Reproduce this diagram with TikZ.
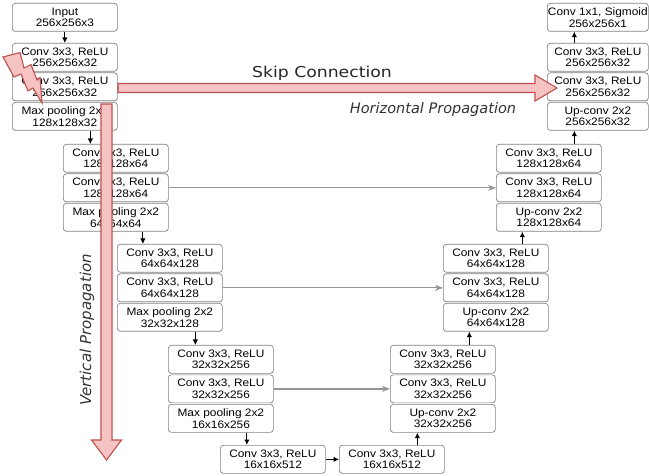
\documentclass[tikz,border=0pt]{standalone}
\usepackage{fontspec}
\usetikzlibrary{arrows.meta,calc}
\newfontfamily\boxfont[FakeStretch=1.1]{Liberation Sans}
\newfontfamily\labfont[FakeStretch=1.15]{DejaVu Sans}
\newfontfamily\plainfont{DejaVu Sans}
\definecolor{boxgray}{RGB}{130,130,130}
\definecolor{skipgray}{RGB}{150,150,150}
\definecolor{redline}{RGB}{192,80,77}
\definecolor{redfill}{RGB}{245,195,195}
\begin{document}
\begin{tikzpicture}[x=1pt,y=-1pt,
 blk/.style={draw=boxgray, line width=0.7pt, rounded corners=3pt, fill=white, minimum width=105pt, minimum height=28pt, inner sep=0pt, align=center, anchor=north west, font=\boxfont\fontsize{10.8}{11.7}\selectfont},
 blkr/.style={blk, minimum width=101pt},
 arr/.style={line width=1pt, -{Latex[length=5.5pt,width=5.5pt]}},
 skip/.style={draw=skipgray, line width=1.3pt, -{Stealth[length=8pt,width=6pt]}},
 redarrow/.style={draw=redline, fill=redfill, line width=1.1pt, line join=miter}]
\useasboundingbox (0,0) rectangle (649,476);
% encoder
\node[blk] (in) at (12,3) {Input\\256x256x3};
\node[blk] (l1a) at (12,43) {Conv 3x3, ReLU\\256x256x32};
\node[blk] (l1b) at (12,72.5) {Conv 3x3, ReLU\\256x256x32};
\node[blk] (l1c) at (12,102) {Max pooling 2x2\\128x128x32};
\node[blk] (l2a) at (63,144) {Conv 3x3, ReLU\\128x128x64};
\node[blk] (l2b) at (63,173.5) {Conv 3x3, ReLU\\128x128x64};
\node[blk] (l2c) at (63,203) {Max pooling 2x2\\64x64x64};
\node[blk] (l3a) at (117,244) {Conv 3x3, ReLU\\64x64x128};
\node[blk] (l3b) at (117,273.5) {Conv 3x3, ReLU\\64x64x128};
\node[blk] (l3c) at (117,303) {Max pooling 2x2\\32x32x128};
\node[blk] (l4a) at (168,345) {Conv 3x3, ReLU\\32x32x256};
\node[blk] (l4b) at (168,374.5) {Conv 3x3, ReLU\\32x32x256};
\node[blk] (l4c) at (168,404) {Max pooling 2x2\\16x16x256};
\node[blk] (bl) at (220,445) {Conv 3x3, ReLU\\16x16x512};
\node[blk] (br) at (339,445) {Conv 3x3, ReLU\\16x16x512};
% decoder
\node[blk] (r4a) at (390,345) {Conv 3x3, ReLU\\32x32x256};
\node[blk] (r4b) at (390,374.5) {Conv 3x3, ReLU\\32x32x256};
\node[blk] (r4c) at (390,404) {Up-conv 2x2\\32x32x256};
\node[blk] (r3a) at (443,244) {Conv 3x3, ReLU\\64x64x128};
\node[blk] (r3b) at (443,273.5) {Conv 3x3, ReLU\\64x64x128};
\node[blk] (r3c) at (443,303) {Up-conv 2x2\\64x64x128};
\node[blk] (r2a) at (496,144) {Conv 3x3, ReLU\\128x128x64};
\node[blk] (r2b) at (496,173.5) {Conv 3x3, ReLU\\128x128x64};
\node[blk] (r2c) at (496,203) {Up-conv 2x2\\128x128x64};
\node[blkr] (r1o) at (547,3) {Conv 1x1, Sigmoid\\256x256x1};
\node[blkr] (r1a) at (547,43) {Conv 3x3, ReLU\\256x256x32};
\node[blkr] (r1b) at (547,72.5) {Conv 3x3, ReLU\\256x256x32};
\node[blkr] (r1c) at (547,102) {Up-conv 2x2\\256x256x32};
% black arrows
\draw[arr] (in.south) -- (l1a.north);
\coordinate (m1) at ($(l1c.south east)!0.5!(l2a.north west)$);
\coordinate (m2) at ($(l2c.south east)!0.5!(l3a.north west)$);
\coordinate (m3) at ($(l3c.south east)!0.5!(l4a.north west)$);
\coordinate (m4) at ($(l4c.south east)!0.5!(bl.north west)$);
\draw[arr] (m1 |- l1c.south) -- (m1 |- l2a.north);
\draw[arr] (m2 |- l2c.south) -- (m2 |- l3a.north);
\draw[arr] (m3 |- l3c.south) -- (m3 |- l4a.north);
\draw[arr] (m4 |- l4c.south) -- (m4 |- bl.north);
\draw[arr] (bl.east) -- (br.west);
\coordinate (m5) at ($(br.north east)!0.5!(r4c.south west)$);
\coordinate (m6) at ($(r4a.north east)!0.5!(r3c.south west)$);
\coordinate (m7) at ($(r3a.north east)!0.5!(r2c.south west)$);
\coordinate (m8) at ($(r2a.north east)!0.5!(r1c.south west)$);
\draw[arr] (m5 |- br.north) -- (m5 |- r4c.south);
\draw[arr] (m6 |- r4a.north) -- (m6 |- r3c.south);
\draw[arr] (m7 |- r3a.north) -- (m7 |- r2c.south);
\draw[arr] (m8 |- r2a.north) -- (m8 |- r1c.south);
\draw[arr] (m8 |- r1a.north) -- (m8 |- r1o.south);
% skip connections
\draw[skip] (l2b.east) -- (r2b.west);
\draw[skip] (l3b.east) -- (r3b.west);
\draw[skip] (l4b.east) -- (r4b.west);
% red arrows
\draw[redarrow] (118,83.5) -- (535,83.5) -- (535,75) -- (557,88) -- (535,101) -- (535,92.5) -- (118,92.5) -- cycle;
\draw[redarrow] (101,104) -- (112,104) -- (112,440) -- (121.5,440) -- (106.5,460) -- (91.5,440) -- (101,440) -- cycle;
\draw[redarrow] (3,57) -- (20,52.5) -- (24,68) -- (31,64.5) -- (37,80) -- (40,77.5) -- (42,103) -- (33,88) -- (28,91) -- (21,74) -- (14,77) -- cycle;
% labels
\node[font=\labfont\fontsize{15}{15}\selectfont, text=black!85] (skiplab) at (322,73) {Skip Connection};
\node[font=\plainfont\itshape\fontsize{14.5}{14.5}\selectfont, text=black!80] (hlab) at (433,110) {Horizontal Propagation};
\node[rotate=90, font=\plainfont\itshape\fontsize{15}{15}\selectfont, text=black!80] (vlab) at (87,330) {Vertical Propagation};
\end{tikzpicture}
\end{document}
